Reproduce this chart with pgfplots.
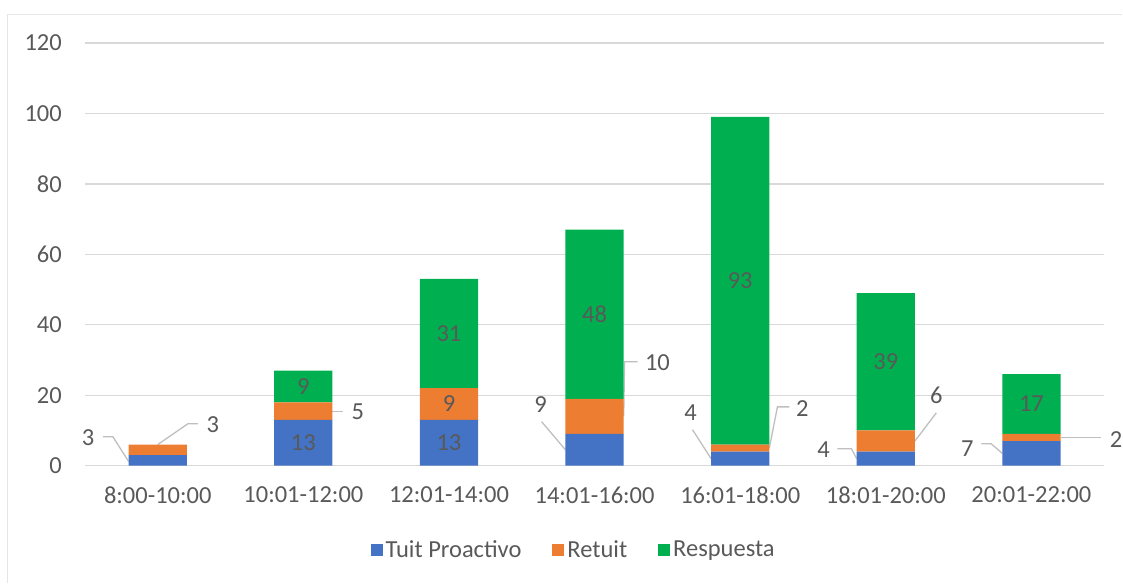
\documentclass[border=0pt]{standalone}
\usepackage{pgfplots}
\usepackage{pgfplotstable}
\pgfplotsset{compat=1.18}
\usepackage{fontspec}
\setmainfont{Carlito}

\definecolor{cBlue}{HTML}{4472C4}
\definecolor{cOrange}{HTML}{ED7D31}
\definecolor{cGreen}{HTML}{00B050}
\definecolor{cText}{HTML}{595959}
\definecolor{cGrid}{HTML}{D9D9D9}
\definecolor{cLeader}{HTML}{BFBFBF}
\definecolor{cFrame}{HTML}{E6E6E6}

% Tweets per time slot: proactive, retweet, reply
\pgfplotstableread{
x tuit retuit resp
0 3  3  0
1 13 5  9
2 13 9  31
3 9  10 48
4 4  2  93
5 4  6  39
6 7  2  17
}\franjas

\newcommand{\bigfont}{\fontsize{24.5}{28}\selectfont}
\tikzset{
  lbl/.style={font=\bigfont, text=cText, inner sep=0pt},
  ldr/.style={draw=cLeader, line width=1.3pt},
}

\begin{document}
\begin{tikzpicture}
  % canvas and chart frame
  \path (0pt,0pt) rectangle (1123pt,583pt);
  \draw[cFrame, line width=1.5pt] (7.5pt,0pt) -- (7.5pt,568.5pt) -- (1123pt,568.5pt);

  \begin{axis}[
    at={(85pt,117pt)}, anchor=south west,
    scale only axis, width=1020pt, height=423pt,
    ybar stacked, bar width=0.4,
    xmin=-0.5, xmax=6.5, ymin=0, ymax=120,
    xtick=data,
    xticklabels={8:00-10:00,10:01-12:00,12:01-14:00,14:01-16:00,16:01-18:00,18:01-20:00,20:01-22:00},
    ytick={0,20,...,120},
    ymajorgrids, grid style={cGrid, line width=1.3pt},
    axis line style={draw=none},
    major tick length=0pt,
    /pgf/number format/assume math mode=true,
    tick label style={font=\bigfont, text=cText},
    yticklabel style={anchor=east, inner sep=0pt, xshift=-23pt},
    xticklabel style={anchor=north, inner sep=0pt, yshift=-21pt},
    clip=false,
    legend columns=3,
    legend style={at={(0.48,-0.199)}, anchor=center, draw=none, fill=none,
      font=\bigfont, text=cText,
      nodes={inner sep=3pt},
      /tikz/every even column/.append style={column sep=28pt}},
    legend image code/.code={\fill[#1] (0pt,-6pt) rectangle (12pt,6pt);},
  ]
    \addplot[fill=cBlue, draw=none] table[x=x, y=tuit] {\franjas};
    \addplot[fill=cOrange, draw=none] table[x=x, y=retuit] {\franjas};
    \addplot[fill=cGreen, draw=none] table[x=x, y=resp] {\franjas};
    \legend{Tuit Proactivo, Retuit, Respuesta}

    % anchor points for the labels inside the segments
    \coordinate (a1) at (axis cs:1,6.5);
    \coordinate (b1) at (axis cs:1,22.5);
    \coordinate (a2) at (axis cs:2,6.5);
    \coordinate (m2) at (axis cs:2,17.5);
    \coordinate (b2) at (axis cs:2,37.5);
    \coordinate (b3) at (axis cs:3,43);
    \coordinate (b4) at (axis cs:4,52.5);
    \coordinate (b5) at (axis cs:5,29.5);
    \coordinate (b6) at (axis cs:6,17.5);

    % labels moved out of small segments, with leader lines
    \draw[ldr] (axis cs:-0.376,8.2) -- (axis cs:-0.308,8.2) -- (axis cs:-0.2,1.2);
    \coordinate (o0a) at (axis cs:-0.479,7.9);
    \draw[ldr] (axis cs:0,6) -- (axis cs:0.207,11.9) -- (axis cs:0.276,11.9);
    \coordinate (o0b) at (axis cs:0.378,11.6);

    \draw[ldr] (axis cs:1.2,15.4) -- (axis cs:1.271,15.4);
    \coordinate (o1b) at (axis cs:1.374,15.3);

    \draw[ldr] (axis cs:2.636,12.5) -- (axis cs:2.8,4.5);
    \coordinate (o3a) at (axis cs:2.629,17.3);
    \draw[ldr] (axis cs:3.2,14) -- (axis cs:3.206,29.5) -- (axis cs:3.295,29.5);
    \coordinate (o3b) at (axis cs:3.432,29.2);

    \draw[ldr] (axis cs:3.673,10.2) -- (axis cs:3.8,2);
    \coordinate (o4a) at (axis cs:3.659,15.0);
    \draw[ldr] (axis cs:4.2,5) -- (axis cs:4.256,16.7) -- (axis cs:4.338,16.7);
    \coordinate (o4b) at (axis cs:4.427,16.2);

    \draw[ldr] (axis cs:4.668,4.8) -- (axis cs:4.764,4.8) -- (axis cs:4.8,2);
    \coordinate (o5a) at (axis cs:4.572,4.5);
    \draw[ldr] (axis cs:5.2,7) -- (axis cs:5.347,15.0);
    \coordinate (o5b) at (axis cs:5.347,20.1);

    \draw[ldr] (axis cs:5.656,6.2) -- (axis cs:5.724,6.2) -- (axis cs:5.8,3.5);
    \coordinate (o6a) at (axis cs:5.560,4.8);
    \draw[ldr] (axis cs:6.2,8) -- (axis cs:6.479,8);
    \coordinate (o6b) at (axis cs:6.582,7.4);
  \end{axis}

  % data labels, set above the bars
  \node[lbl] at (a1) {13};
  \node[lbl] at (b1) {9};
  \node[lbl] at (a2) {13};
  \node[lbl] at (m2) {9};
  \node[lbl] at (b2) {31};
  \node[lbl] at (b3) {48};
  \node[lbl] at (b4) {93};
  \node[lbl] at (b5) {39};
  \node[lbl] at (b6) {17};
  \node[lbl] at (o0a) {3};
  \node[lbl] at (o0b) {3};
  \node[lbl] at (o1b) {5};
  \node[lbl] at (o3a) {9};
  \node[lbl] at (o3b) {10};
  \node[lbl] at (o4a) {4};
  \node[lbl] at (o4b) {2};
  \node[lbl] at (o5a) {4};
  \node[lbl] at (o5b) {6};
  \node[lbl] at (o6a) {7};
  \node[lbl] at (o6b) {2};
\end{tikzpicture}
\end{document}
